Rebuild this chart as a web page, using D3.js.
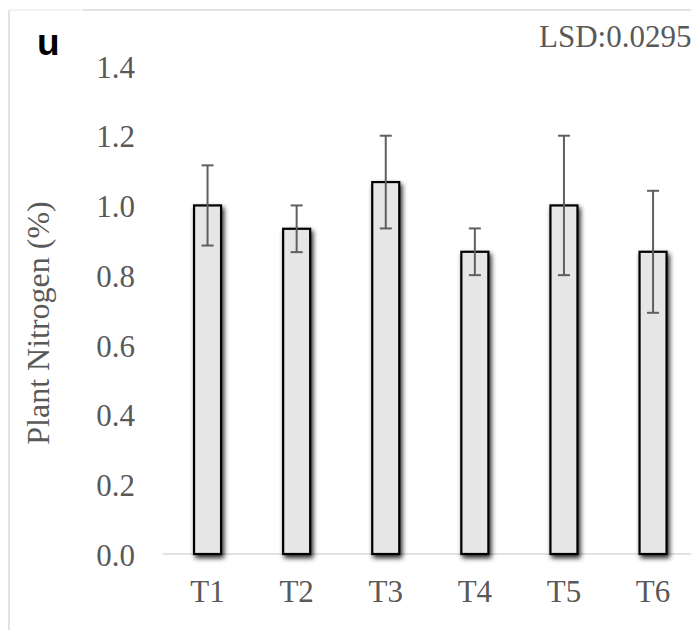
<!DOCTYPE html>
<html>
<head>
<meta charset="utf-8">
<script src="https://cdn.jsdelivr.net/npm/d3@7"></script>
<style>
  html, body { margin: 0; padding: 0; background: #fff; }
  svg { display: block; }
</style>
</head>
<body>
<script>
const categories = ["T1", "T2", "T3", "T4", "T5", "T6"];
const values = [1.0, 0.933, 1.067, 0.867, 1.0, 0.867];
const errors = [0.115, 0.067, 0.133, 0.067, 0.2, 0.175];
const yTicks = [0, 0.2, 0.4, 0.6, 0.8, 1.0, 1.2, 1.4];
const yLabel = "Plant Nitrogen (%)";
const panelLabel = "u";
const lsdText = "LSD:0.0295";

const W = 691, H = 630;
const svg = d3.select("body").append("svg").attr("width", W).attr("height", H);

const defs = svg.append("defs");
const f = defs.append("filter").attr("id", "shadow")
  .attr("x", "-50%").attr("y", "-10%").attr("width", "200%").attr("height", "130%");
f.append("feDropShadow").attr("dx", 2).attr("dy", 3).attr("stdDeviation", 2.5)
  .attr("flood-color", "#000").attr("flood-opacity", 0.85);

// frame
svg.append("line").attr("x1", 9).attr("x2", 9).attr("y1", 10).attr("y2", H)
  .attr("stroke", "#d9d9d9").attr("stroke-width", 1.5);
svg.append("line").attr("x1", 83).attr("x2", W).attr("y1", 10).attr("y2", 10)
  .attr("stroke", "#d9d9d9").attr("stroke-width", 1.5);
svg.append("line").attr("x1", 9).attr("x2", 83).attr("y1", 10).attr("y2", 10)
  .attr("stroke", "#efefef").attr("stroke-width", 1.5);

const x0 = 163, step = 89.1;
const x = d3.scaleBand().domain(categories).range([x0, x0 + step * categories.length]).paddingInner(0.68).paddingOuter(0.34);
const y = d3.scaleLinear().domain([0, 1.4]).range([554, 66]);

// baseline
svg.append("line").attr("x1", x0).attr("x2", W).attr("y1", y(0)).attr("y2", y(0))
  .attr("stroke", "#d9d9d9").attr("stroke-width", 1.5);

// y axis labels
const yAxis = d3.axisLeft(y).tickValues(yTicks).tickFormat(d3.format(".1f")).tickSize(0).tickPadding(0);
const ya = svg.append("g").attr("transform", "translate(135,0)").call(yAxis);
ya.select(".domain").remove();
ya.selectAll("text").attr("font-family", "'Liberation Serif', 'Times New Roman', serif")
  .attr("font-size", 31).attr("fill", "#595959").attr("dy", "0.36em");

// x axis labels
const xAxis = d3.axisBottom(x).tickSize(0).tickPadding(0);
const xa = svg.append("g").attr("transform", `translate(0,${y(0)})`).call(xAxis);
xa.select(".domain").remove();
xa.selectAll("text").attr("font-family", "'Liberation Serif', 'Times New Roman', serif")
  .attr("font-size", 31).attr("fill", "#595959").attr("dy", null).attr("y", 48);

// bars
const bw = 27;
svg.append("g").selectAll("rect").data(categories).join("rect")
  .attr("x", d => x(d) + x.bandwidth() / 2 - bw / 2)
  .attr("width", bw)
  .attr("y", (d, i) => y(values[i]))
  .attr("height", (d, i) => y(0) - y(values[i]))
  .attr("fill", "#e6e6e6").attr("stroke", "#000").attr("stroke-width", 2.2)
  .attr("filter", "url(#shadow)");

// error bars
const eg = svg.append("g").attr("stroke", "#5f5f5f").attr("stroke-width", 2);
categories.forEach((c, i) => {
  const cx = x(c) + x.bandwidth() / 2;
  const top = y(values[i] + errors[i]), bot = y(values[i] - errors[i]);
  eg.append("line").attr("x1", cx).attr("x2", cx).attr("y1", top).attr("y2", bot);
  eg.append("line").attr("x1", cx - 6).attr("x2", cx + 6).attr("y1", top).attr("y2", top);
  eg.append("line").attr("x1", cx - 6).attr("x2", cx + 6).attr("y1", bot).attr("y2", bot);
});

// y label
svg.append("text").attr("transform", "translate(49,323) rotate(-90)")
  .attr("text-anchor", "middle")
  .attr("font-family", "'Liberation Serif', 'Times New Roman', serif")
  .attr("font-size", 32).attr("fill", "#595959").text(yLabel);

// panel label
svg.append("text").attr("x", 37).attr("y", 55)
  .attr("font-family", "'Liberation Sans', Arial, sans-serif").attr("font-weight", "bold")
  .attr("font-size", 37).attr("fill", "#000").text(panelLabel);

// LSD
svg.append("text").attr("x", 539).attr("y", 47)
  .attr("font-family", "'Liberation Serif', 'Times New Roman', serif")
  .attr("font-size", 31).attr("fill", "#595959").text(lsdText);
</script>
</body>
</html>
